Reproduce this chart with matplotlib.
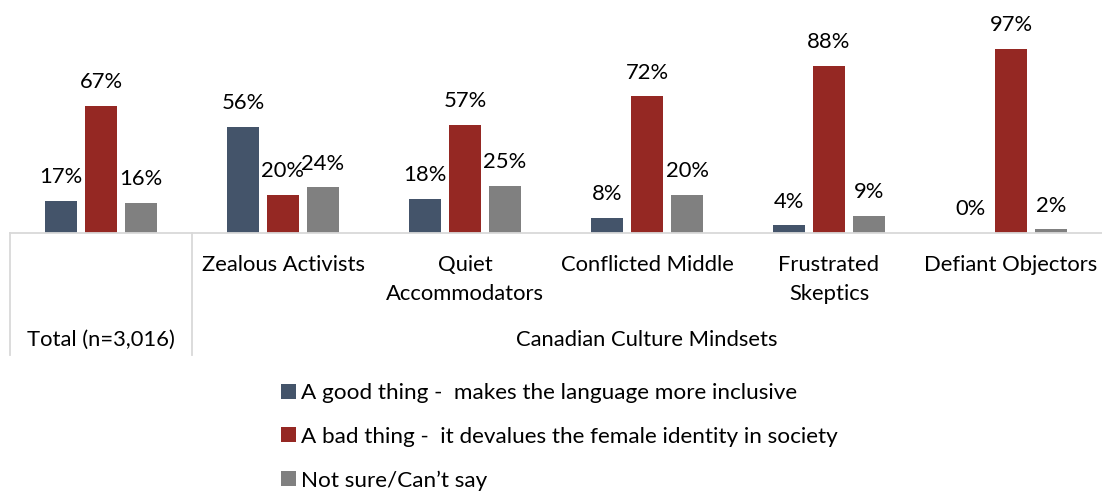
import matplotlib
matplotlib.use("Agg")
import matplotlib.pyplot as plt
from matplotlib.patches import Patch
from matplotlib.lines import Line2D
import numpy as np

plt.rcParams['font.family'] = ['Lato', 'DejaVu Sans']

categories = ["", "Zealous Activists", "Quiet\nAccommodators", "Conflicted Middle",
              "Frustrated\nSkeptics", "Defiant Objectors"]
good = [17, 56, 18, 8, 4, 0]
bad = [67, 20, 57, 72, 88, 97]
unsure = [16, 24, 25, 20, 9, 2]
series_names = ["A good thing -  makes the language more inclusive",
                "A bad thing -  it devalues the female identity in society",
                "Not sure/Can\u2019t say"]
colors = ["#44546A", "#952823", "#808080"]
group_labels = ["Total (n=3,016)", "Canadian Culture Mindsets"]

W, H = 1102, 491
fig = plt.figure(figsize=(W / 100, H / 100), dpi=100)
ax = fig.add_axes([10 / W, 1 - 233 / H, 1 - 10 / W, 233 / H])

x = np.arange(len(categories))
bw = 0.176
step = 0.22
fs = 15.8
for i, (vals, c) in enumerate(zip([good, bad, unsure], colors)):
    xs = x + (i - 1) * step
    ax.bar(xs, vals, width=bw, color=c, zorder=2)
    for xi, v in zip(xs, vals):
        ax.annotate(f"{v}%", (xi, v), xytext=(0, 17), textcoords="offset points",
                    ha="center", va="center", fontsize=fs, color="#000000")

ax.set_xlim(-0.5, len(categories) - 0.5)
ax.set_ylim(0, 122.8)
ax.axis("off")

grid_c = "#D9D9D9"
# baseline and separators between the two category groups
ax.plot([0, 1], [0, 0], transform=ax.transAxes, color=grid_c, lw=1.3, clip_on=False)
trans = ax.get_xaxis_transform()
for xv in [-0.5, 0.5]:
    ax.add_line(Line2D([xv, xv], [0, -122 / 233], transform=trans, color=grid_c,
                       lw=1.3, clip_on=False))

for xi, lab in zip(x, categories):
    if lab:
        ax.text(xi, -22 / 233, lab, transform=trans, ha="center", va="top",
                fontsize=fs, linespacing=1.55)

ax.text(0, -107 / 233, group_labels[0], transform=trans, ha="center", va="center", fontsize=fs)
ax.text(3, -107 / 233, group_labels[1], transform=trans, ha="center", va="center", fontsize=fs)

handles = [Patch(facecolor=c, edgecolor="none") for c in colors]
fig.legend(handles, series_names, loc="upper left", bbox_to_anchor=(281 / W, 1 - 383 / H),
           frameon=False, fontsize=16.2, handlelength=0.66, handleheight=0.66,
           handletextpad=0.25, labelspacing=1.05, borderaxespad=0, borderpad=0)

fig.savefig("out.png", dpi=100)
